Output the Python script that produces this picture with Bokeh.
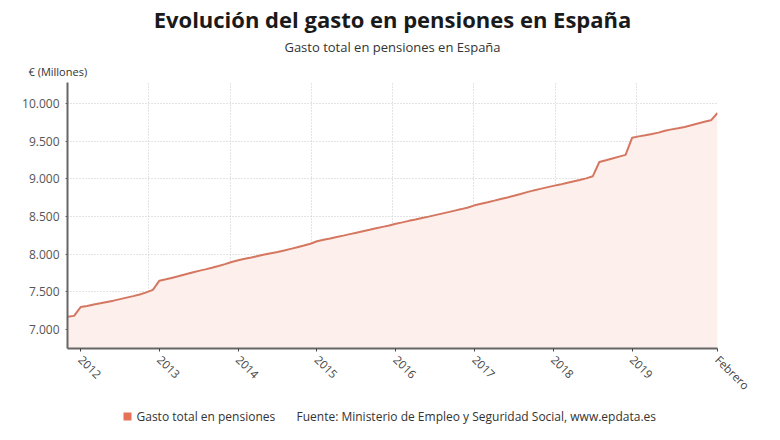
import math
from bokeh.plotting import figure
from bokeh.layouts import column
from bokeh.models import Range1d, FixedTicker, Title
from bokeh.core.properties import value
from bokeh.embed import file_html
from bokeh.resources import INLINE

# Monthly pension spending in Spain, millions of euros, Nov 2011 - Feb 2020
first_month = "2011-11"
gasto_millones = [
    7170, 7183,
    7300, 7315, 7333, 7350, 7368, 7385, 7405, 7425, 7445, 7467, 7495, 7528,  # 2012
    7650, 7668, 7690, 7712, 7735, 7758, 7780, 7800, 7822, 7845, 7870, 7898,  # 2013
    7922, 7940, 7958, 7978, 7998, 8015, 8030, 8050, 8072, 8094, 8116, 8140,  # 2014
    8174, 8192, 8210, 8229, 8248, 8268, 8287, 8306, 8325, 8345, 8364, 8383,  # 2015
    8405, 8424, 8444, 8462, 8481, 8500, 8520, 8540, 8560, 8580, 8600, 8622,  # 2016
    8650, 8670, 8690, 8712, 8735, 8755, 8777, 8800, 8825, 8848, 8868, 8888,  # 2017
    8908, 8925, 8945, 8965, 8985, 9008, 9035, 9225, 9248, 9272, 9296, 9320,  # 2018
    9548, 9565, 9580, 9597, 9615, 9640, 9658, 9672, 9690, 9712, 9735, 9758,  # 2019
    9778, 9876,                                                              # 2020
]
tick_labels = ["2012", "2013", "2014", "2015", "2016", "2017", "2018", "2019", "Febrero"]
y_ticks = [7000, 7500, 8000, 8500, 9000, 9500, 10000]
series_name = "Gasto total en pensiones"
source_note = "Fuente: Ministerio de Empleo y Seguridad Social, www.epdata.es"

FONT = "Open Sans"
LINE_COLOR = "#d57760"
FILL_COLOR = "#fdefeb"
SWATCH_COLOR = "#e5735a"
TEXT_COLOR = "#333333"

BORDER_L, BORDER_R = 67, 63
WIDTH = 780

n = len(gasto_millones)
x = list(range(n))

# month index of each January 2012..2019, plus the final month
tick_pos = [2 + 12 * k for k in range(8)] + [n - 1]

Y0, Y1 = 6750, 10280
p = figure(width=WIDTH, height=400, output_backend="svg", toolbar_location=None,
           x_range=Range1d(0, n - 1), y_range=Range1d(Y0, Y1),
           min_border_left=BORDER_L, min_border_right=BORDER_R,
           min_border_top=82, min_border_bottom=48)
p.outline_line_color = None
p.background_fill_color = "white"
p.border_fill_color = "white"

p.varea(x=x, y1=[Y0] * n, y2=gasto_millones, fill_color=FILL_COLOR, fill_alpha=1)
p.line(x=x, y=gasto_millones, line_color=LINE_COLOR, line_width=2)

# axes
xa = p.xaxis[0]
xa.ticker = FixedTicker(ticks=tick_pos)
xa.major_label_overrides = {t: lab for t, lab in zip(tick_pos, tick_labels)}
xa.major_label_orientation = -math.pi / 4
xa.major_label_text_font = FONT
xa.major_label_text_font_size = "11.5px"
xa.major_label_text_color = "#444444"
xa.major_label_standoff = 6
xa.axis_line_color = "#666666"
xa.axis_line_width = 2
xa.major_tick_line_color = "#444444"
xa.major_tick_in = 0
xa.major_tick_out = 3
xa.minor_tick_line_color = None

ya = p.yaxis[0]
ya.ticker = FixedTicker(ticks=y_ticks)
ya.major_label_overrides = {t: f"{t:,}".replace(",", ".") for t in y_ticks}
ya.major_label_text_font = FONT
ya.major_label_text_font_size = "12px"
ya.major_label_text_color = "#555555"
ya.axis_line_color = "#666666"
ya.axis_line_width = 2
ya.major_tick_line_color = "#666666"
ya.major_tick_in = 0
ya.major_tick_out = 2
ya.minor_tick_line_color = None
ya.major_label_standoff = 6

# grid: horizontal at value ticks, vertical splitting the span in eight
p.ygrid.ticker = FixedTicker(ticks=y_ticks)
p.xgrid.ticker = FixedTicker(ticks=[(n - 1) * k / 8 for k in range(1, 8)])
for g in (p.xgrid, p.ygrid):
    g.grid_line_color = "#c8c8c8"
    g.grid_line_dash = "1 2"
    g.grid_line_width = 1

# headings, stacked outward from the plot frame
p.title.visible = False
p.add_layout(Title(text="€ (Millones)", align="left", offset=-39, standoff=8,
                   text_font=FONT, text_font_size="11px", text_font_style="normal",
                   text_color=TEXT_COLOR), "above")
p.add_layout(Title(text="Gasto total en pensiones en España", align="center", standoff=4,
                   text_font=FONT, text_font_size="13px", text_font_style="normal",
                   text_color=TEXT_COLOR), "above")
p.add_layout(Title(text="Evolución del gasto en pensiones en España", align="center", standoff=0,
                   text_font=FONT, text_font_size="22px", text_font_style="bold",
                   text_color="#1a1a1a"), "above")

# footer strip: legend swatch, series name and source note, in page pixels
FH = 40
foot = figure(width=WIDTH, height=FH, output_backend="svg", toolbar_location=None,
              x_range=Range1d(BORDER_L, WIDTH - BORDER_R), y_range=Range1d(FH, 0),
              min_border_left=BORDER_L, min_border_right=BORDER_R,
              min_border_top=0, min_border_bottom=0)
foot.axis.visible = False
foot.grid.visible = False
foot.outline_line_color = None
foot.border_fill_color = "white"
foot.background_fill_color = "white"
foot.scatter(x=[127], y=[16], marker="square", size=8, fill_color=SWATCH_COLOR, line_color=None)
foot.text(x=[136, 296], y=[16, 16], text=[series_name, source_note],
          text_font=value(FONT), text_font_size="12px", text_color=TEXT_COLOR,
          text_align="left", text_baseline="middle")

layout = column(p, foot, spacing=0)
open("out.html", "w").write(file_html(layout, INLINE))
